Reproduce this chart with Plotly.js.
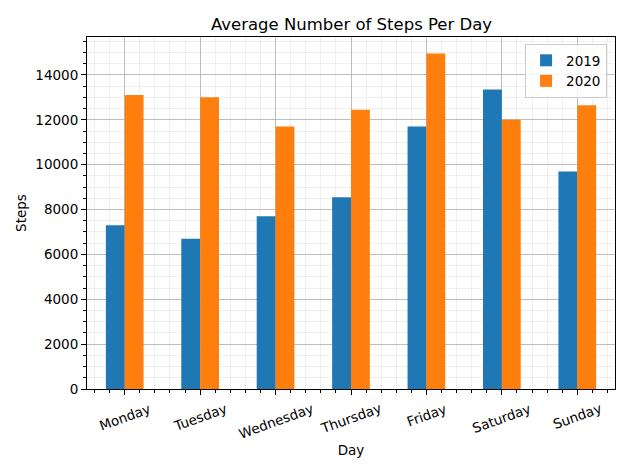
<!DOCTYPE html>
<html>
<head>
<meta charset="utf-8">
<script src="https://cdn.plot.ly/plotly-3.0.1.min.js"></script>
<style>html,body{margin:0;padding:0;background:#fff}#chart{width:630px;height:473px}</style>
</head>
<body>
<div id="chart"></div>
<script>
const days = ["Monday","Tuesday","Wednesday","Thursday","Friday","Saturday","Sunday"];
const steps2019 = [7300, 6700, 7700, 8550, 11700, 13350, 9700];
const steps2020 = [13100, 13000, 11700, 12450, 14950, 12000, 12650];
const seriesNames = ["2019", "2020"];
const yTicks = [0, 2000, 4000, 6000, 8000, 10000, 12000, 14000];

const xIdx = days.map((d, i) => i);
const font = "DejaVu Sans, sans-serif";
const labelSize = 13.5;

const traces = [
  {type: "bar", name: seriesNames[0], x: xIdx, y: steps2019, marker: {color: "#1f77b4"}, width: 0.25, offset: -0.25},
  {type: "bar", name: seriesNames[1], x: xIdx, y: steps2020, marker: {color: "#ff7f0e"}, width: 0.25, offset: 0}
];

// rotated labels anchored by the top of their rotated box (like matplotlib ha=center)
const ctx = document.createElement("canvas").getContext("2d");
ctx.font = labelSize + "px 'DejaVu Sans'";
const ang = 20 * Math.PI / 180;
const dayLabels = days.map((d, i) => {
  const w = ctx.measureText(d).width;
  const H = w * Math.sin(ang) + 16 * Math.cos(ang);
  return {
    text: d, x: i, xref: "x", y: 0, yref: "paper",
    xanchor: "center", yanchor: "middle", yshift: -(11 + H / 2), textangle: -20,
    showarrow: false, font: {family: font, size: labelSize, color: "#000"}
  };
});

const layout = {
  width: 630, height: 473,
  margin: {l: 87, r: 15, t: 37, b: 84},
  paper_bgcolor: "#fff", plot_bgcolor: "#fff",
  font: {family: font, size: 13, color: "#000"},
  title: {text: "Average Number of Steps Per Day", font: {family: font, size: 16.5, color: "#000"}, x: 0.558, xanchor: "center", y: 0.949, yanchor: "middle"},
  showlegend: true,
  legend: {x: 0.985, xanchor: "right", y: 0.98, yanchor: "top", bgcolor: "rgba(255,255,255,0.8)", bordercolor: "#cccccc", borderwidth: 1, font: {family: font, size: 13.5}},
  barmode: "overlay",
  annotations: dayLabels,
  xaxis: {
    range: [-0.5, 6.5], tickvals: xIdx, showticklabels: false,
    showline: true, linecolor: "#000", linewidth: 1, mirror: true,
    ticks: "outside", ticklen: 5, tickcolor: "#000",
    showgrid: true, gridcolor: "#b0b0b0", gridwidth: 0.8, zeroline: false,
    minor: {dtick: 0.2, tick0: 0, ticks: "outside", ticklen: 3, tickcolor: "#000", showgrid: true, gridcolor: "#e6e6e6", gridwidth: 0.6},
    title: {text: "Day", font: {family: font, size: 13.5}, standoff: 51}
  },
  yaxis: {
    range: [0, 15690], tickvals: yTicks, tickformat: "d",
    showline: true, linecolor: "#000", linewidth: 1, mirror: true,
    ticks: "outside", ticklen: 5, tickcolor: "#000", tickfont: {family: font, size: 13.5},
    showgrid: true, gridcolor: "#b0b0b0", gridwidth: 0.8, zeroline: false,
    minor: {dtick: 500, tick0: 0, ticks: "outside", ticklen: 3, tickcolor: "#000", showgrid: true, gridcolor: "#e6e6e6", gridwidth: 0.6},
    title: {text: "Steps", font: {family: font, size: 13.5}, standoff: 5}
  }
};

Plotly.newPlot("chart", traces, layout, {displayModeBar: false, staticPlot: true});
</script>
</body>
</html>
